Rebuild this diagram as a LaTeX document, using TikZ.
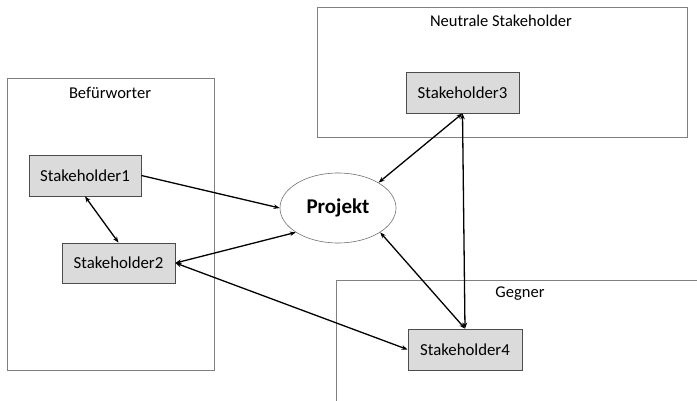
\documentclass[tikz,border=0pt]{standalone}
\usepackage{fontspec}
\setmainfont{Carlito}
\usetikzlibrary{arrows.meta,shapes.geometric}
\begin{document}
\begin{tikzpicture}[x=1pt,y=-1pt,
  groupline/.style={draw=black!50,line width=0.9pt},
  grouplabel/.style={font=\fontsize{16.5}{19}\selectfont,inner sep=0pt},
  stakebox/.style={draw=black!70,fill=black!14,line width=0.8pt,minimum width=113pt,minimum height=41pt,inner sep=0pt,font=\fontsize{16.8}{20}\selectfont},
  proj/.style={ellipse,draw=black!55,line width=0.6pt,minimum width=116pt,minimum height=70pt,inner sep=0pt,font=\bfseries\fontsize{21}{24}\selectfont},
  link/.style={black,line width=1.3pt,{Stealth[length=6pt,width=4.5pt]}-{Stealth[length=6pt,width=4.5pt]}},
  onelink/.style={black,line width=1.3pt,-{Stealth[length=6pt,width=4.5pt]}}
]
\useasboundingbox[fill=white] (0,0) rectangle (697,401);
% groups
\draw[groupline] (7,78) rectangle (214,370);
\node[grouplabel] (lbef) at (110,93) {Befürworter};
\draw[groupline] (317,7) rectangle (687,137);
\node[grouplabel] (lneu) at (501,21) {Neutrale Stakeholder};
\draw[groupline] (336,401) -- (336,280) -- (697,280);
\node[grouplabel] (lgeg) at (520,294) {Gegner};
% nodes
\node[stakebox,minimum width=112pt] (s1) at (85,175.5) {Stakeholder1};
\node[stakebox,minimum height=40pt] (s2) at (118.5,263) {Stakeholder2};
\node[stakebox] (s3) at (462.5,92.5) {Stakeholder3};
\node[stakebox,minimum width=114pt] (s4) at (465,349.5) {Stakeholder4};
\node[proj] (p) at (338,208) {Projekt};
% connectors
\draw[onelink] (s1.east) -- (p.west);
\draw[link] (s1.south) -- (s2.north);
\draw[link] (s2.east) -- (p.210);
\draw[link] (s2.east) -- (s4.west);
\draw[link] (s3.south) -- (p.32);
\draw[link] (s3.south) -- (s4.north);
\draw[link] (s4.north) -- (p.-30);
\end{tikzpicture}
\end{document}
